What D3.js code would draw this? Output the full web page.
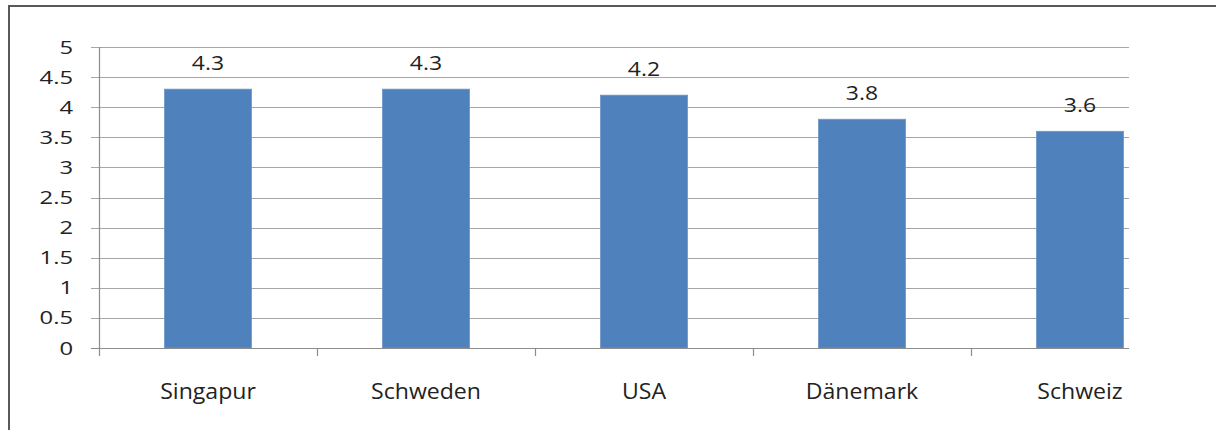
<!DOCTYPE html>
<html>
<head>
<meta charset="utf-8">
<script src="https://cdn.jsdelivr.net/npm/d3@7"></script>
<style>
  body { margin: 0; background: #fff; }
  svg { display: block; }
  text { font-family: "Open Sans", sans-serif; fill: #222; }
</style>
</head>
<body>
<script>
"use strict";
(function () {
    // Data
    const countries = ["Singapur", "Schweden", "USA", "Dänemark", "Schweiz"]
    const values = [4.3, 4.3, 4.2, 3.8, 3.6]
    const yTicks = [0, 0.5, 1, 1.5, 2, 2.5, 3, 3.5, 4, 4.5, 5]

    // Dimensions
    const measurements = {
        width: 1216,
        height: 430,
        left: 99,
        bandEnd: 1189,
        plotRight: 1129,
        top: 47,
        bottom: 348
    }

    const svg = d3.select("body").append("svg")
        .attr("width", measurements.width)
        .attr("height", measurements.height)

    // Frame
    svg.append("rect")
        .attr("x", 9).attr("y", 6)
        .attr("width", 1400).attr("height", 600)
        .attr("fill", "none")
        .attr("stroke", "#595959")
        .attr("stroke-width", 2)

    const scaleX = d3.scaleBand()
        .domain(countries)
        .range([measurements.left, measurements.bandEnd])
        .paddingInner(0.6)
        .paddingOuter(0.3)

    const bandStep = (measurements.bandEnd - measurements.left) / countries.length

    const scaleY = d3.scaleLinear()
        .domain([0, 5])
        .range([measurements.bottom, measurements.top])

    // the picture is a bit wider than tall, so text is stretched sideways
    function stretchedText(x, y, str, anchor, size, stretch) {
        svg.append("text")
            .attr("transform", "translate(" + x + "," + y + ") scale(" + stretch + ",1)")
            .attr("text-anchor", anchor)
            .style("font-size", size + "px")
            .text(str)
    }

    // Gridlines
    svg.append("g")
        .selectAll("line")
        .data(yTicks.filter(d => d > 0))
        .enter()
        .append("line")
        .attr("x1", measurements.left - 8)
        .attr("x2", measurements.plotRight)
        .attr("y1", d => Math.round(scaleY(d)) + 0.5)
        .attr("y2", d => Math.round(scaleY(d)) + 0.5)
        .attr("stroke", "#a6a6a6")
        .attr("stroke-width", 1.2)

    // Bars
    svg.append("g")
        .selectAll("rect")
        .data(values)
        .enter()
        .append("rect")
        .attr("x", (d, i) => scaleX(countries[i]))
        .attr("y", d => scaleY(d))
        .attr("width", scaleX.bandwidth())
        .attr("height", d => scaleY(0) - scaleY(d))
        .attr("fill", "#4f81bd")
        .attr("stroke", "#6f98c9")
        .attr("stroke-width", 0.8)

    // Axes
    const axisColor = "#8c8c8c"
    svg.append("line")
        .attr("x1", measurements.left + 0.5).attr("x2", measurements.left + 0.5)
        .attr("y1", measurements.top).attr("y2", measurements.bottom + 8)
        .attr("stroke", axisColor).attr("stroke-width", 1.2)
    svg.append("line")
        .attr("x1", measurements.left - 8).attr("x2", measurements.plotRight)
        .attr("y1", measurements.bottom + 0.5).attr("y2", measurements.bottom + 0.5)
        .attr("stroke", axisColor).attr("stroke-width", 1.2)

    // Category tick marks between bands
    svg.append("g")
        .selectAll("line")
        .data(d3.range(1, countries.length))
        .enter()
        .append("line")
        .attr("x1", d => Math.round(measurements.left + d * bandStep) + 0.5)
        .attr("x2", d => Math.round(measurements.left + d * bandStep) + 0.5)
        .attr("y1", measurements.bottom)
        .attr("y2", measurements.bottom + 8)
        .attr("stroke", axisColor)
        .attr("stroke-width", 1.2)

    // Y tick labels
    yTicks.forEach(t => {
        stretchedText(73, scaleY(t) + 6.5, String(t), "end", 17.5, 1.36)
    })

    // X labels
    countries.forEach(c => {
        stretchedText(scaleX(c) + scaleX.bandwidth() / 2, 399, c, "middle", 21, 1.1)
    })

    // Value labels
    values.forEach((v, i) => {
        stretchedText(scaleX(countries[i]) + scaleX.bandwidth() / 2, scaleY(v) - 19, String(v), "middle", 20.5, 1.12)
    })
})()
</script>
</body>
</html>
